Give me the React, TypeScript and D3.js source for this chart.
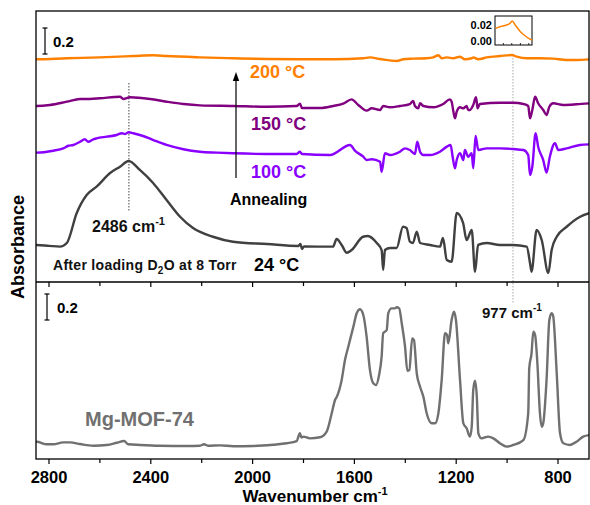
import React from "react";
import * as d3 from "d3";

// ---------- data (wavenumber cm-1, absorbance with stacking offset) ----------
const xTicksMajor = [2800, 2400, 2000, 1600, 1200, 800];
const xTicksMinor = [2600, 2200, 1800, 1400, 1000];

const s24: [number, number][] = [
  [2860, 0.285], [2848, 0.285], [2800, 0.278], [2757, 0.272], [2730, 0.3], [2691, 0.531], [2652, 0.669], [2613, 0.733],
  [2560, 0.838], [2521, 0.887], [2487, 0.931], [2443, 0.862], [2391, 0.762], [2338, 0.631], [2285, 0.502],
  [2234, 0.415], [2156, 0.348], [2077, 0.31], [1943, 0.292], [1820, 0.277], [1812, 0.292], [1806, 0.254],
  [1798, 0.273], [1684, 0.272], [1670, 0.331], [1650, 0.285], [1630, 0.225], [1611, 0.246], [1566, 0.348],
  [1547, 0.354], [1512, 0.3], [1493, 0.246], [1487, 0.092], [1480, 0.246], [1460, 0.262], [1434, 0.262],
  [1409, 0.425], [1395, 0.415], [1382, 0.31], [1370, 0.3], [1355, 0.387], [1342, 0.3], [1303, 0.285],
  [1264, 0.272], [1252, 0.338], [1237, 0.169], [1218, 0.156], [1198, 0.531], [1173, 0.454], [1159, 0.323],
  [1139, 0.4], [1126, 0.079], [1114, 0.285], [1080, 0.3], [1028, 0.285], [977, 0.285], [923, 0.272],
  [910, 0.146], [904, 0.079], [884, 0.4], [864, 0.323], [838, 0.069], [825, 0.246], [805, 0.348],
  [766, 0.425], [713, 0.502], [674, 0.531],
];

const s100: [number, number][] = [
  [2860, 0.995], [2848, 0.995], [2783, 1.01], [2744, 1.028], [2724, 1.048], [2705, 1.054], [2678, 1.079], [2659, 1.098],
  [2646, 1.079], [2626, 1.098], [2613, 1.105], [2573, 1.118], [2534, 1.131], [2514, 1.144], [2501, 1.138],
  [2487, 1.152], [2469, 1.144], [2430, 1.123], [2390, 1.092], [2338, 1.054], [2272, 1.021], [2207, 1.002],
  [2141, 0.995], [2076, 0.99], [1945, 0.985], [1827, 0.985], [1814, 1.002], [1806, 0.985], [1696, 0.977],
  [1617, 1.054], [1598, 1.01], [1565, 0.964], [1552, 0.938], [1532, 0.944], [1499, 0.925], [1493, 0.848],
  [1480, 0.99], [1460, 0.977], [1421, 1.002], [1401, 1.028], [1382, 1.015], [1362, 0.985], [1353, 1.079],
  [1342, 1.002], [1329, 0.977], [1303, 0.977], [1264, 1.002], [1237, 1.041], [1222, 1.054], [1214, 0.964],
  [1205, 0.875], [1198, 0.938], [1185, 0.99], [1172, 0.938], [1166, 1.015], [1153, 0.964], [1139, 0.99],
  [1133, 0.875], [1124, 1.123], [1113, 1.015], [1080, 1.028], [1028, 1.028], [976, 1.023], [936, 1.015],
  [917, 0.977], [910, 0.823], [901, 0.887], [888, 1.144], [878, 1.041], [858, 0.938], [845, 0.841],
  [832, 0.964], [812, 1.067], [799, 1.015], [766, 1.028], [714, 1.054], [674, 1.059],
];

const s150: [number, number][] = [
  [2860, 1.354], [2848, 1.354], [2796, 1.362], [2730, 1.387], [2678, 1.408], [2639, 1.408], [2600, 1.413], [2521, 1.425],
  [2508, 1.408], [2482, 1.421], [2403, 1.408], [2338, 1.387], [2272, 1.369], [2207, 1.359], [2076, 1.354],
  [1945, 1.348], [1827, 1.354], [1814, 1.372], [1806, 1.338], [1735, 1.338], [1683, 1.354], [1644, 1.372],
  [1611, 1.405], [1585, 1.362], [1552, 1.318], [1532, 1.336], [1499, 1.323], [1487, 1.354], [1460, 1.344],
  [1421, 1.354], [1382, 1.369], [1369, 1.392], [1362, 1.354], [1349, 1.336], [1342, 1.375], [1329, 1.354],
  [1290, 1.344], [1251, 1.369], [1225, 1.405], [1218, 1.387], [1212, 1.323], [1205, 1.259], [1198, 1.31],
  [1185, 1.344], [1172, 1.336], [1159, 1.354], [1153, 1.323], [1146, 1.323], [1133, 1.362], [1122, 1.421],
  [1116, 1.336], [1107, 1.369], [1028, 1.379], [976, 1.379], [936, 1.369], [917, 1.354], [910, 1.259],
  [901, 1.323], [890, 1.425], [878, 1.375], [858, 1.323], [845, 1.285], [834, 1.348], [819, 1.375],
  [779, 1.362], [727, 1.367], [674, 1.375],
];

const s200: [number, number][] = [
  [2860, 1.713], [2848, 1.713], [2730, 1.721], [2600, 1.728], [2469, 1.738], [2390, 1.744], [2338, 1.738], [2207, 1.728],
  [2076, 1.721], [1945, 1.715], [1814, 1.713], [1683, 1.713], [1565, 1.721], [1539, 1.728], [1499, 1.715],
  [1434, 1.7], [1408, 1.713], [1369, 1.718], [1316, 1.721], [1290, 1.728], [1270, 1.744], [1257, 1.721],
  [1237, 1.728], [1211, 1.721], [1185, 1.733], [1166, 1.713], [1139, 1.721], [1133, 1.728], [1113, 1.713],
  [1080, 1.728], [1028, 1.738], [980, 1.746], [962, 1.733], [923, 1.721], [871, 1.721], [818, 1.718],
  [766, 1.708], [727, 1.708], [674, 1.713],
];

const sMOF: [number, number][] = [
  [2860, 0.133], [2848, 0.133], [2809, 0.113], [2783, 0.113], [2744, 0.128], [2717, 0.128], [2678, 0.115], [2626, 0.102],
  [2573, 0.108], [2534, 0.125], [2505, 0.138], [2488, 0.113], [2442, 0.108], [2364, 0.102], [2259, 0.1],
  [2207, 0.102], [2191, 0.113], [2174, 0.102], [2128, 0.105], [2076, 0.098], [1997, 0.1], [1919, 0.11],
  [1866, 0.121], [1827, 0.138], [1814, 0.198], [1808, 0.165], [1801, 0.172], [1775, 0.159], [1735, 0.167],
  [1709, 0.21], [1689, 0.352], [1676, 0.454], [1669, 0.479], [1650, 0.608], [1637, 0.762], [1624, 0.864],
  [1604, 1.018], [1591, 1.121], [1578, 1.152], [1565, 1.108], [1552, 0.941], [1539, 0.685], [1526, 0.582],
  [1515, 0.569], [1503, 0.646], [1493, 0.787], [1487, 0.967], [1473, 0.992], [1467, 1.121], [1454, 1.159],
  [1441, 1.159], [1434, 1.167], [1424, 1.159], [1414, 1.044], [1401, 0.864], [1392, 0.679], [1384, 0.685],
  [1373, 0.928], [1366, 0.915], [1355, 0.659], [1342, 0.556], [1329, 0.479], [1316, 0.352], [1296, 0.275],
  [1283, 0.275], [1270, 0.352], [1257, 0.608], [1244, 0.967], [1236, 0.954], [1231, 0.89], [1218, 1.069],
  [1209, 1.133], [1201, 1.069], [1185, 0.608], [1172, 0.275], [1159, 0.236], [1146, 0.172], [1139, 0.248],
  [1133, 0.531], [1126, 0.602], [1119, 0.479], [1113, 0.198], [1100, 0.159], [1074, 0.172], [1054, 0.159],
  [1028, 0.121], [1002, 0.095], [976, 0.108], [936, 0.146], [917, 0.352], [913, 0.698], [904, 0.813],
  [897, 0.979], [890, 0.954], [881, 0.736], [871, 0.352], [864, 0.248], [858, 0.275], [845, 0.608],
  [834, 1.069], [825, 1.121], [819, 1.1], [805, 0.659], [792, 0.198], [779, 0.121], [753, 0.108],
  [727, 0.133], [701, 0.172], [674, 0.185],
];

// inset: 200 °C spectrum around 977 cm-1
const insetData: [number, number][] = [
  [1047, 0.0158], [1030, 0.0178], [1003, 0.02], [989, 0.0222], [980, 0.0251], [968, 0.02], [947, 0.0115],
  [927, 0.006], [907, 0.0018], [900, 0.0009],
];
const insetTicks = [1016, 982, 947, 913];
const insetYTicks = [0.0, 0.02];

const FONT = "'Liberation Sans', Arial, Helvetica, sans-serif";
const C_ORANGE = "#ff8000";
const C_PURPLE = "#800080";
const C_VIOLET = "#8a00ff";
const C_BLACK = "#404040";
const C_GRAY = "#707070";

export default function App() {
  const W = 590, H = 505;
  const L = 36, R = 589, T = 11, MID = 282, B = 459;

  const x = d3.scaleLinear().domain([2800, 800]).range([49, 558]);
  const yTop = d3.scaleLinear().domain([0, 1]).range([MID, MID - 130]);
  const yBot = d3.scaleLinear().domain([0, 1]).range([B, B - 130]);

  const lineTop = d3.line<[number, number]>().x((d) => x(d[0])).y((d) => yTop(d[1])).curve(d3.curveMonotoneX);
  const lineBot = d3.line<[number, number]>().x((d) => x(d[0])).y((d) => yBot(d[1])).curve(d3.curveMonotoneX);

  const ix = d3.scaleLinear().domain([1050, 900]).range([495, 532]);
  const iy = d3.scaleLinear().domain([0, 0.02]).range([40.7, 25]);
  const insetLine = d3.line<[number, number]>().x((d) => ix(d[0])).y((d) => iy(d[1])).curve(d3.curveMonotoneX);

  const bar = (xx: number, y0: number, len: number) => (
    <g stroke="#000" strokeWidth={1.2}>
      <line x1={xx} x2={xx} y1={y0} y2={y0 - len} />
      <line x1={xx - 2.5} x2={xx + 2.5} y1={y0} y2={y0} />
      <line x1={xx - 2.5} x2={xx + 2.5} y1={y0 - len} y2={y0 - len} />
    </g>
  );
  const barLen = yTop(0) - yTop(0.2);
  const ax = 236;

  return (
    <svg width={W} height={H} style={{ position: "absolute", left: 0, top: 0, background: "#fff" }} fontFamily={FONT}>
      <defs>
        <clipPath id="clipTop"><rect x={L} y={T} width={R - L} height={MID - T} /></clipPath>
        <clipPath id="clipBot"><rect x={L} y={MID} width={R - L} height={B - MID} /></clipPath>
      </defs>

      {/* dotted guide lines */}
      <line x1={x(2486)} x2={x(2486)} y1={83} y2={212} stroke="#444" strokeWidth={1} strokeDasharray="1.5,1.5" />
      <line x1={x(977)} x2={x(977)} y1={55} y2={304} stroke="#aaa" strokeWidth={1} strokeDasharray="1.5,1.5" />

      {/* spectra */}
      <g clipPath="url(#clipTop)" fill="none" strokeWidth={2.4} strokeLinejoin="round">
        <path d={lineTop(s200) ?? ""} stroke={C_ORANGE} />
        <path d={lineTop(s150) ?? ""} stroke={C_PURPLE} />
        <path d={lineTop(s100) ?? ""} stroke={C_VIOLET} />
        <path d={lineTop(s24) ?? ""} stroke={C_BLACK} />
      </g>
      <g clipPath="url(#clipBot)" fill="none" strokeWidth={2.4} strokeLinejoin="round">
        <path d={lineBot(sMOF) ?? ""} stroke={C_GRAY} />
      </g>

      {/* frame */}
      <rect x={L} y={T} width={R - L} height={B - T} fill="none" stroke="#000" strokeWidth={1.3} />
      <line x1={L} x2={R} y1={MID} y2={MID} stroke="#000" strokeWidth={1.3} />

      {/* ticks */}
      {[MID, B].map((yy) => (
        <g key={yy} stroke="#000" strokeWidth={1.2}>
          {xTicksMajor.map((t) => <line key={t} x1={x(t)} x2={x(t)} y1={yy} y2={yy + 5} />)}
          {xTicksMinor.map((t) => <line key={t} x1={x(t)} x2={x(t)} y1={yy} y2={yy + 4} />)}
        </g>
      ))}
      {xTicksMajor.map((t) => (
        <text key={t} x={x(t)} y={482.5} textAnchor="middle" fontSize={16.5} fontWeight="bold">{t}</text>
      ))}
      <text x={315} y={501.5} textAnchor="middle" fontSize={17} fontWeight="bold">
        Wavenumber cm<tspan fontSize={11} dy={-7}>-1</tspan>
      </text>
      <text transform="translate(24,247) rotate(-90)" textAnchor="middle" fontSize={18} fontWeight="bold">Absorbance</text>

      {/* scale bars */}
      {bar(45, 54, barLen)}
      <text x={53} y={47} fontSize={15} fontWeight="bold">0.2</text>
      {bar(47, 320, barLen)}
      <text x={57} y={313} fontSize={15} fontWeight="bold">0.2</text>

      {/* labels */}
      <text x={250} y={78} fontSize={18} fontWeight="bold" fill={C_ORANGE}>200 °C</text>
      <text x={251} y={130} fontSize={18} fontWeight="bold" fill={C_PURPLE}>150 °C</text>
      <text x={251} y={178} fontSize={18} fontWeight="bold" fill={C_VIOLET}>100 °C</text>
      <text x={230} y={205} fontSize={16} fontWeight="bold" fill="#000">Annealing</text>
      <line x1={ax} x2={ax} y1={178} y2={78} stroke="#000" strokeWidth={1.2} />
      <path d={`M${ax},72 L${ax + 3.2},81 L${ax - 3.2},81 Z`} fill="#000" />

      <text x={92} y={232} fontSize={16} fontWeight="bold" fill="#111">
        2486 cm<tspan fontSize={11} dy={-7}>-1</tspan>
      </text>
      <text x={53} y={270} fontSize={14} fontWeight="bold" fill="#111" letterSpacing={0.3}>
        After loading D<tspan fontSize={10} dy={4}>2</tspan><tspan dy={-4}>O at 8 Torr</tspan>
      </text>
      <text x={254} y={271} fontSize={18} fontWeight="bold" fill="#000">24 °C</text>

      <text x={482} y={318} fontSize={15} fontWeight="bold" fill="#111">
        977 cm<tspan fontSize={10} dy={-7}>-1</tspan>
      </text>
      <text x={85} y={426} fontSize={20} fontWeight="bold" fill={C_GRAY}>Mg-MOF-74</text>

      {/* inset */}
      <rect x={495} y={16} width={37} height={29} fill="#fff" stroke="#000" strokeWidth={1} />
      <path d={insetLine(insetData) ?? ""} fill="none" stroke={C_ORANGE} strokeWidth={1.5} />
      {insetTicks.map((t) => <line key={t} x1={ix(t)} x2={ix(t)} y1={45} y2={43} stroke="#000" strokeWidth={0.8} />)}
      {insetYTicks.map((t) => (
        <text key={t} x={492} y={iy(t) + 4} textAnchor="end" fontSize={11} fontWeight="bold">{t.toFixed(2)}</text>
      ))}
    </svg>
  );
}
